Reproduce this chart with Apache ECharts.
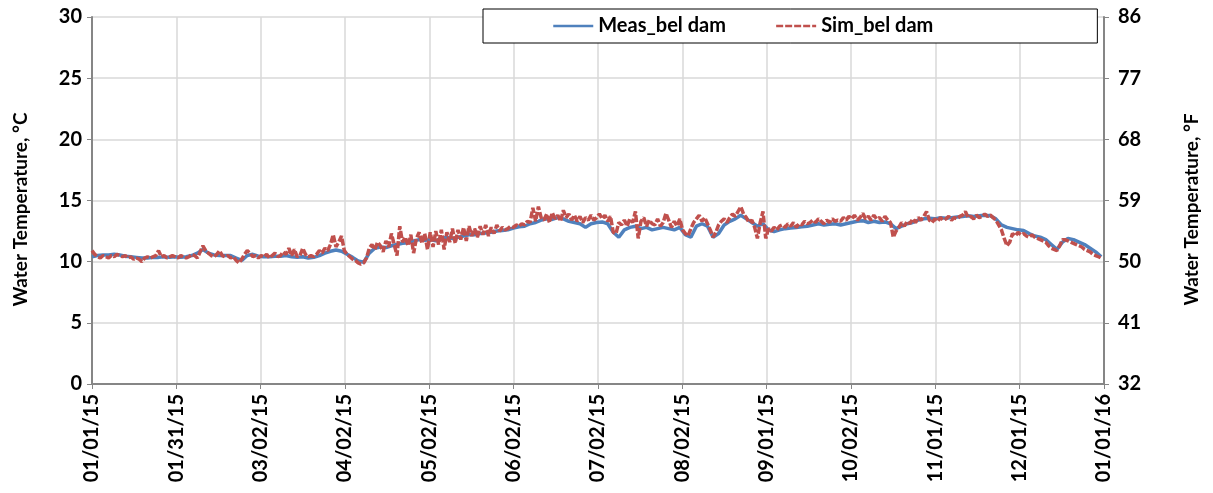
<!DOCTYPE html>
<html><head><meta charset="utf-8">
<script src="https://cdn.jsdelivr.net/npm/echarts@6/dist/echarts.min.js"></script>
<style>html,body{margin:0;padding:0;background:#fff}#c{width:1213px;height:493px}</style>
</head><body><div id="c"></div>
<script>
// X tick labels (ticks every 365/12 days from 01/01/15)
const xTickLabels = ['01/01/15','01/31/15','03/02/15','04/02/15','05/02/15','06/02/15','07/02/15','08/02/15','09/01/15','10/02/15','11/01/15','12/01/15','01/01/16'];
const seriesNames = ['Meas_bel dam', 'Sim_bel dam'];

// Measured temperature (°C), one value every 2 days starting 01/01/15
const measEvery2Days = [
  10.4,10.5,10.55,10.55,10.6,10.55,10.45,10.4,10.35,10.3,10.3,10.35,10.35,10.4,10.35,10.4,10.35,10.4,10.5,10.7,11.0,10.7,10.55,10.5,10.5,10.5,10.3,10.1,10.5,10.6,10.45,
  10.4,10.4,10.45,10.45,10.5,10.4,10.35,10.4,10.3,10.35,10.5,10.7,10.85,10.95,10.85,10.6,10.35,10.05,9.95,10.7,11.1,11.2,11.15,11.3,11.4,11.5,11.55,11.7,11.8,11.75,
  11.8,11.7,11.9,12.0,11.9,12.0,12.1,12.2,12.2,12.3,12.35,12.4,12.5,12.55,12.6,12.75,12.85,12.9,13.1,13.2,13.4,13.5,13.45,13.6,13.5,13.3,13.2,13.1,12.8,13.1,13.2,
  13.25,13.1,12.4,12.0,12.6,12.8,12.9,12.7,12.8,12.6,12.7,12.8,12.7,12.6,12.8,12.2,12.0,12.9,13.1,12.9,12.0,12.3,13.0,13.3,13.5,13.8,13.5,13.2,12.9,13.1,12.6,
  12.45,12.6,12.7,12.75,12.8,12.85,12.9,13.0,13.1,13.0,13.05,13.1,13.0,13.1,13.2,13.3,13.35,13.2,13.3,13.2,13.25,13.1,12.7,12.9,13.1,13.2,13.4,13.5,13.55,13.5,
  13.6,13.55,13.6,13.65,13.7,13.75,13.7,13.75,13.8,13.75,13.5,13.0,12.8,12.7,12.6,12.55,12.3,12.1,12.0,11.8,11.4,11.0,11.6,11.9,11.8,11.6,11.4,11.1,10.8,10.4
];

// Simulated temperature (°C), one value per day starting 01/01/15
const simDaily = [
  10.9,10.6,10.4,10.3,10.5,10.4,10.3,10.5,10.4,10.6,10.5,10.4,10.5,10.3,10.4,10.2,10.3,10.2,10.0,10.3,10.4,10.3,10.4,10.5,10.9,10.4,10.5,10.3,10.4,10.5,
  10.4,10.3,10.5,10.4,10.3,10.4,10.6,10.5,10.3,10.8,11.3,10.9,10.7,10.5,10.4,10.6,10.9,10.5,10.4,10.5,10.3,10.4,10.1,9.9,10.2,10.6,10.9,10.7,10.4,10.5,
  10.3,10.5,10.4,10.6,10.3,10.5,10.7,10.4,10.5,10.8,10.6,11.1,10.5,11.0,10.4,10.5,11.1,10.6,10.4,10.5,10.4,10.6,10.9,10.7,11.1,10.9,11.4,12.2,11.2,11.6,
  12.1,10.9,10.6,10.4,10.2,10.1,9.9,9.8,9.9,10.3,11.1,11.4,11.0,11.6,11.3,10.8,11.7,11.2,12.3,11.4,10.5,12.9,11.6,12.0,11.3,12.2,10.7,11.9,12.4,11.5,
  12.3,11.0,12.4,11.2,12.5,11.4,12.6,11.0,12.4,11.6,12.7,11.5,12.6,11.8,12.8,11.7,12.9,12.1,12.7,12.0,12.9,12.2,13.0,12.1,12.8,12.3,13.0,12.5,12.8,12.6,
  12.7,12.9,12.8,13.0,12.9,13.1,13.0,13.3,13.2,14.4,13.3,14.5,13.6,13.4,13.9,13.2,14.0,13.5,13.8,13.3,14.2,13.6,13.9,13.4,13.8,13.3,13.7,13.2,13.6,13.4,
  13.8,13.4,13.6,13.9,13.5,13.8,13.3,13.7,12.4,12.3,13.2,13.0,13.4,12.9,13.5,13.2,14.1,11.9,13.3,13.6,12.9,13.4,13.1,13.0,13.5,12.9,13.2,13.95,13.4,12.8,
  13.3,12.9,13.5,12.6,12.3,12.1,12.7,13.2,13.5,13.8,13.3,13.6,13.1,12.6,12.0,12.4,13.0,13.3,13.5,13.2,13.6,13.9,13.7,14.1,14.5,13.9,13.6,13.2,13.4,12.8,
  11.9,13.2,14.1,11.9,12.7,12.5,12.8,12.6,12.9,13.0,12.8,13.1,12.9,13.2,12.8,13.1,13.0,13.3,13.1,13.2,13.4,13.2,13.5,13.3,13.1,13.4,13.2,13.5,13.3,13.4,
  13.3,13.6,13.4,13.7,13.5,13.8,13.4,13.6,13.95,13.5,13.7,13.4,13.8,13.5,13.6,13.3,13.7,13.4,13.2,12.0,12.5,12.8,13.2,12.9,13.3,13.1,13.5,13.2,13.6,13.4,
  13.7,14.1,13.4,13.2,13.5,13.3,13.6,13.4,13.5,13.7,13.4,13.6,13.5,13.7,13.8,14.1,13.6,13.7,13.5,13.8,13.6,13.7,13.9,13.7,13.8,13.6,13.4,13.0,12.6,11.9,
  11.3,11.6,12.3,12.1,12.4,12.2,12.3,12.1,12.0,12.2,12.0,11.9,11.8,11.7,11.6,11.3,11.1,11.0,10.9,11.3,11.8,11.8,11.7,11.6,11.5,11.4,11.3,11.2,11.0,10.9,
  10.8,10.6,10.5,10.4,10.3
];

const DAYS_IN_YEAR = 365;
const tickStep = DAYS_IN_YEAR / 12;
const measData = measEvery2Days.map((v, i) => [i * 2, v]);
const simData = simDaily.map((v, i) => [i, v]);

const FONT = 'Lato';
const txt = { fontFamily: FONT, fontWeight: 'bold', fontSize: 20, color: '#000' };
const nameStyle = { fontFamily: FONT, fontWeight: 'bold', fontSize: 19, color: '#000', padding: [0, 18, 0, 0] };

const chart = echarts.init(document.getElementById('c'), null, { renderer: 'canvas' });
chart.setOption({
  animation: false,
  backgroundColor: '#fff',
  grid: { left: 92, right: 109, top: 17, bottom: 109, containLabel: false },
  legend: {
    data: seriesNames,
    left: 483, top: 9,
    padding: [7, 164, 7, 69],
    itemGap: 49, itemWidth: 40, itemHeight: 14,
    backgroundColor: '#fff', borderColor: '#000', borderWidth: 1,
    textStyle: { fontFamily: FONT, fontWeight: 'bold', fontSize: 20, color: '#000' },
    lineStyle: { width: 2.5 },
    itemStyle: { opacity: 0, borderWidth: 0 }
  },
  xAxis: {
    type: 'value', min: 0, max: DAYS_IN_YEAR, interval: tickStep,
    axisLine: { show: true, lineStyle: { color: '#868686', width: 2 } },
    axisTick: { show: true, length: 5, lineStyle: { color: '#868686' } },
    splitLine: { show: true, lineStyle: { color: '#D9D9D9', width: 1.5 } },
    axisLabel: Object.assign({ rotate: 90, margin: 10,
      formatter: v => xTickLabels[Math.round(v / tickStep)] || '' }, txt)
  },
  yAxis: [
    {
      type: 'value', min: 0, max: 30, interval: 5, position: 'left',
      name: 'Water Temperature, °C', nameLocation: 'middle', nameGap: 62, nameRotate: 90,
      nameTextStyle: nameStyle,
      axisLine: { show: true, lineStyle: { color: '#868686', width: 2 } },
      axisTick: { show: true, length: 5, lineStyle: { color: '#868686' } },
      splitLine: { show: true, lineStyle: { color: '#D9D9D9', width: 1.5 } },
      axisLabel: Object.assign({ margin: 10 }, txt)
    },
    {
      type: 'value', min: 0, max: 30, interval: 5, position: 'right',
      name: 'Water Temperature, °F', nameLocation: 'middle', nameGap: 78, nameRotate: 90,
      nameTextStyle: nameStyle,
      axisLine: { show: true, lineStyle: { color: '#868686', width: 2 } },
      axisTick: { show: true, length: 5, lineStyle: { color: '#868686' } },
      splitLine: { show: false },
      axisLabel: Object.assign({ margin: 14, formatter: v => String(Math.round(v * 1.8 + 32)) }, txt)
    }
  ],
  series: [
    {
      name: seriesNames[0], type: 'line', data: measData, yAxisIndex: 0,
      symbol: 'none', showSymbol: false,
      lineStyle: { color: '#4F81BD', width: 3.5 }, itemStyle: { color: '#4F81BD' }
    },
    {
      name: seriesNames[1], type: 'line', data: simData, yAxisIndex: 0,
      symbol: 'none', showSymbol: false,
      lineStyle: { color: '#C0504D', width: 3.5, type: [7, 2] }, itemStyle: { color: '#C0504D' }
    }
  ]
});
</script></body></html>
